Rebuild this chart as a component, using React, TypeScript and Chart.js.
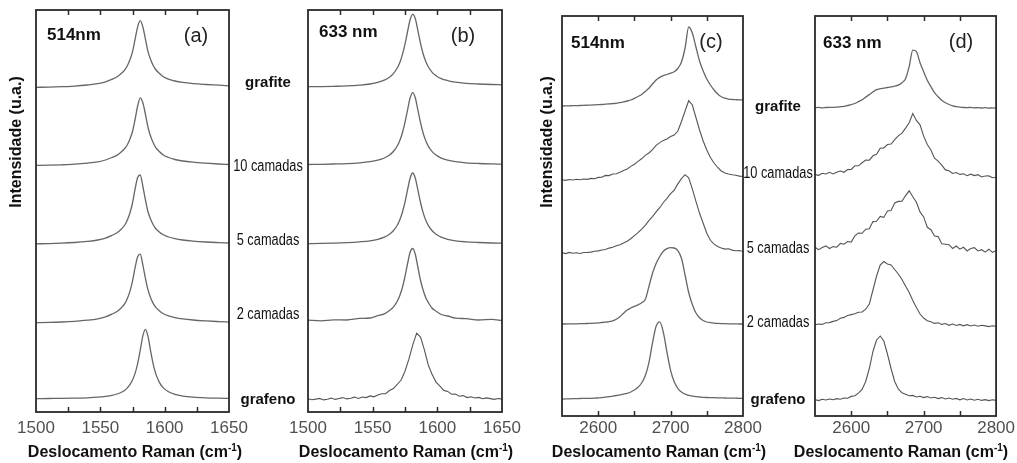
import React, { useEffect, useRef } from "react";
import { Chart, registerables } from "chart.js";

Chart.register(...registerables);

const W = 1017;
const H = 463;
const FONT = '"Liberation Sans", Arial, Helvetica, sans-serif';
const LINE = "#666666";
const LINE_NOISY = "#555555";

// ---------- x grids (cm-1) ----------
const X_G = [1500, 1510, 1520, 1530, 1540, 1548, 1554, 1559, 1563, 1566, 1569, 1571, 1573, 1575, 1577, 1579, 1581, 1583, 1585, 1587, 1589, 1591, 1593, 1596, 1599, 1603, 1608, 1614, 1622, 1632, 1642, 1650];
const X_G_FINE = [1500, 1503, 1506, 1509, 1512, 1515, 1518, 1521, 1524, 1527, 1530, 1533, 1536, 1539, 1542, 1545, 1548, 1551, 1554, 1557, 1560, 1563, 1566, 1569, 1572, 1575, 1578, 1581, 1584, 1587, 1590, 1593, 1596, 1599, 1602, 1605, 1608, 1611, 1614, 1617, 1620, 1623, 1626, 1629, 1632, 1635, 1638, 1641, 1644, 1647, 1650];
const X_2D = [2550, 2555, 2560, 2565, 2570, 2575, 2580, 2585, 2590, 2595, 2600, 2605, 2610, 2615, 2620, 2625, 2630, 2635, 2640, 2645, 2650, 2655, 2660, 2665, 2670, 2675, 2680, 2685, 2690, 2695, 2700, 2705, 2710, 2715, 2720, 2725, 2730, 2735, 2740, 2745, 2750, 2755, 2760, 2765, 2770, 2775, 2780, 2785, 2790, 2795, 2800];

// ---------- tick labels ----------
const TICKS_G = [1500, 1550, 1600, 1650];
const MINOR_G = [1525, 1550, 1575, 1600, 1625];
const TICKS_2D = [2600, 2700, 2800];
const MINOR_2D = [2600, 2650, 2700, 2750];

// ---------- sample names ----------
const SAMPLES = ["grafite", "10 camadas", "5 camadas", "2 camadas", "grafeno"];

// ---------- (a) G band, 514 nm ----------
const A_GRAFITE = [0.0, 0.2, 0.6, 1.2, 2.3, 3.6, 5.4, 8.0, 10.5, 13.5, 17.5, 21.5, 27.5, 35.5, 48.0, 60.5, 66.6, 60.5, 48.5, 36.0, 28.0, 22.0, 17.8, 13.8, 10.6, 8.2, 6.3, 4.9, 3.7, 2.8, 2.1, 1.5];
const A_10 = [0.1, 0.3, 0.7, 1.3, 2.4, 3.7, 5.5, 8.0, 10.4, 13.3, 17.0, 20.8, 26.5, 34.0, 46.0, 59.5, 67.7, 63.0, 51.5, 38.5, 29.5, 23.0, 18.2, 13.8, 10.5, 8.0, 6.0, 4.5, 3.3, 2.3, 1.5, 1.0];
const A_5 = [0.2, 0.4, 0.8, 1.5, 2.6, 4.0, 5.9, 8.6, 11.3, 14.5, 19.0, 24.0, 31.0, 41.0, 55.0, 66.5, 69.0, 58.0, 44.5, 32.5, 25.0, 19.5, 15.5, 11.8, 9.2, 7.0, 5.3, 4.0, 2.9, 2.0, 1.4, 1.0];
const A_2 = [0.1, 0.3, 0.7, 1.4, 2.5, 3.9, 5.8, 8.5, 11.2, 14.5, 19.0, 24.2, 31.3, 41.5, 55.0, 66.0, 68.5, 58.0, 44.5, 33.0, 25.2, 19.6, 15.5, 11.7, 9.0, 6.8, 5.1, 3.8, 2.7, 1.8, 1.1, 0.6];
const A_GRAFENO = [0.4, 0.5, 0.6, 0.8, 1.2, 1.8, 2.6, 3.6, 5.0, 6.5, 8.8, 11.1, 14.3, 18.9, 25.6, 35.4, 48.7, 62.9, 69.7, 62.9, 48.7, 35.4, 25.6, 16.4, 11.1, 7.2, 4.6, 2.95, 1.84, 1.15, 0.79, 0.61];
const A_OFFSETS = [324.7, 246.5, 168, 89.3, 13];

// ---------- (b) G band, 633 nm ----------
const B_GRAFITE = [0.6, 0.7, 1.0, 1.4, 2.2, 3.3, 4.9, 7.1, 10.1, 13.7, 19.3, 24.9, 32.7, 43.1, 55.8, 67.8, 73.0, 68.5, 56.5, 44.0, 33.5, 26.0, 20.5, 15.0, 11.5, 8.7, 6.7, 5.1, 4.0, 3.3, 2.8, 2.5];
const B_10 = [0.5, 0.7, 1.0, 1.4, 2.2, 3.3, 4.8, 7.0, 9.9, 13.5, 19.0, 24.6, 32.3, 42.6, 55.2, 67.2, 72.3, 67.0, 54.8, 42.3, 32.0, 24.4, 18.9, 13.4, 9.9, 6.9, 4.8, 3.3, 2.2, 1.5, 1.1, 0.9];
const B_5 = [0.4, 0.6, 0.9, 1.4, 2.2, 3.2, 4.7, 6.9, 9.8, 13.3, 18.7, 24.2, 31.8, 41.9, 54.3, 66.0, 71.0, 65.8, 53.8, 41.5, 31.4, 24.0, 18.6, 13.2, 9.7, 6.8, 4.7, 3.2, 2.2, 1.5, 1.0, 0.8];
const B_2 = [0.9, 0.2, 1.1, 1.0, 2.6, 3.0, 5.3, 7.1, 10.5, 13.9, 19.8, 25.5, 33.5, 44.5, 57.5, 69.0, 72.5, 66.5, 53.5, 40.5, 31.0, 23.5, 18.5, 12.8, 9.8, 6.5, 5.0, 2.8, 2.4, 1.0, 1.6, 0.5];
const B_GRAFENO = [1.2, 0.3, 0.9, 1.6, 0.1, 0.8, 1.9, 0.6, 1.5, 2.4, 1.1, 1.8, 2.9, 1.6, 3.0, 2.4, 4.1, 3.2, 4.9, 6.3, 6.4, 9.5, 11.4, 15.5, 20.0, 28.8, 40.8, 55.2, 66.8, 62.9, 50.2, 35.0, 25.4, 17.9, 13.8, 9.6, 8.6, 5.8, 5.9, 3.8, 4.4, 2.4, 3.2, 2.0, 2.6, 1.2, 2.1, 1.4, 0.6, 1.5, 0.9];
const B_OFFSETS = [324.7, 247, 168, 91, 12];

// ---------- (c) 2D band, 514 nm ----------
const C_GRAFITE = [0, 0.1, 0.2, 0.3, 0.4, 0.5, 0.7, 0.8, 0.9, 1.1, 1.3, 1.5, 1.8, 2.1, 2.4, 2.7, 3.3, 4.1, 5.0, 6.0, 7.7, 9.5, 11.5, 14.5, 17.7, 22, 26, 28.6, 30.4, 31.5, 32.8, 34.3, 37.5, 44, 58, 79, 73, 59, 45, 35, 27, 21, 16, 12, 9.3, 7.8, 6.9, 6.5, 6.3, 6.1, 6.0];
const C_10 = [0.3, -0.4, 0.5, 0.0, 0.8, 0.2, 1.0, 0.6, 1.6, 1.3, 2.6, 2.8, 4.6, 4.4, 6.0, 6.3, 7.8, 9.4, 11.0, 13.6, 15.8, 18.6, 21.2, 24.6, 27.0, 30.4, 34.6, 37.4, 39.6, 41.0, 43.4, 45.0, 49.0, 58.5, 69.0, 79.3, 75.0, 62.5, 50.0, 39.0, 30.0, 22.5, 17.0, 12.5, 9.0, 7.0, 6.0, 5.2, 4.8, 3.9, 3.6];
const C_5 = [0.7, -0.3, 0.9, 0.1, 0.6, -0.2, 0.8, 0.9, 1.2, 2.0, 2.4, 3.3, 3.8, 5.2, 6.0, 7.6, 8.6, 10.4, 12.0, 14.6, 17.6, 20.6, 24.2, 28.0, 32.6, 36.6, 41.4, 45.6, 50.8, 55.0, 59.6, 63.2, 69.4, 74.6, 78.6, 75.5, 64.5, 52.0, 40.0, 30.0, 20.0, 13.0, 9.2, 6.8, 5.4, 4.2, 4.6, 3.2, 2.6, 2.8, 1.8];
const C_2 = [0, 0, 0.1, 0.1, 0.2, 0.3, 0.4, 0.5, 0.6, 0.8, 1.1, 1.5, 1.9, 2.3, 3.2, 4.8, 7.3, 10.8, 14.0, 16.0, 17.6, 19.2, 21.3, 24.5, 37.3, 50.7, 60.5, 67.5, 72.8, 75.3, 76.3, 76.0, 73.3, 65.7, 49.0, 31.5, 19.5, 11.0, 6.3, 3.5, 2.0, 1.4, 0.9, 0.6, 0.4, 0.3, 0.2, 0.1, 0.1, 0, 0];
const C_GRAFENO = [-0.8, -0.6, -0.5, -0.4, -0.3, -0.2, -0.1, 0, 0, 0.1, 0.4, 0.7, 1.1, 1.6, 2.2, 2.8, 3.5, 4.2, 5.0, 6.3, 8.3, 11.0, 15.3, 22.5, 35.5, 55.5, 72.0, 76.5, 66.0, 46.0, 28.0, 16.5, 10.0, 6.2, 4.2, 3.0, 2.2, 1.6, 1.3, 1.0, 0.8, 0.7, 0.6, 0.5, 0.4, 0.3, 0.2, 0.1, 0.1, 0, 0];
const C_OFFSETS = [310, 236, 162.7, 92, 17.7];

// ---------- (d) 2D band, 633 nm ----------
const D_GRAFITE = [0, 0.3, -0.2, 0.2, 0.4, 0.3, 0.6, 1.0, 1.4, 2.2, 3.0, 4.2, 6.0, 7.9, 10.6, 13.1, 15.8, 18.0, 19.0, 19.6, 20.2, 20.8, 21.6, 22.6, 25.0, 29.0, 41.0, 57.5, 56.0, 45.0, 36.0, 27.5, 21.0, 15.0, 11.0, 7.5, 5.0, 3.2, 1.8, 1.0, 0.5, 0.2, 0.1, 0.3, -0.2, 0.1, -0.3, 0, -0.4, -0.2, -0.5];
const D_10 = [0.4, -0.3, 1.7, 1.0, 2.7, 1.1, 2.8, 4.0, 2.7, 5.4, 5.6, 9.2, 9.2, 12.2, 15.0, 14.8, 19.2, 20.7, 26.8, 27.1, 30.5, 31.0, 35.3, 39.1, 41.9, 46.9, 52.2, 61.5, 54.6, 50.2, 38.9, 30.5, 25.0, 16.9, 13.8, 9.8, 5.1, 4.3, 1.5, 2.5, 0.6, 1.2, -0.7, 0.8, -0.6, 0.3, -2.0, -1.0, -0.9, -2.8, -2.2];
const D_5 = [1.0, -1.4, 0.8, 2.4, -0.2, 1.7, 1.1, 4.9, 4.1, 6.8, 6.2, 12.5, 15.2, 15.0, 19.1, 19.5, 26.7, 27.0, 31.9, 30.9, 37.4, 37.7, 45.3, 46.9, 47.1, 52.7, 57.5, 51.5, 46.0, 36.4, 31.4, 21.0, 18.6, 12.2, 11.7, 4.6, 4.1, 3.6, -0.2, 2.3, -0.9, 1.0, -2.7, -0.2, 0.7, -2.6, -1.4, -3.8, -0.9, -4.0, -2.4];
const D_2 = [0.2, 1.0, 0.6, 2.2, 2.4, 3.6, 4.4, 6.8, 7.6, 9.6, 10.4, 11.2, 12.8, 13.0, 15.8, 21.0, 35.0, 49.0, 60.0, 63.5, 61.0, 60.0, 55.5, 51.0, 45.5, 39.0, 32.5, 24.5, 17.5, 11.0, 7.0, 4.2, 3.2, 1.6, 2.2, 0.6, 1.5, -0.3, 1.0, -0.5, 0.6, -0.8, 0.3, -1.0, 0.0, -1.2, -0.2, -0.9, -1.6, -0.7, -1.4];
const D_GRAFENO = [0.4, -0.6, 0.8, 0.0, 1.0, 0.3, 1.4, 0.8, 2.0, 1.8, 3.6, 4.2, 6.8, 10.5, 18.5, 31.5, 48.5, 60.0, 64.0, 59.0, 46.0, 31.5, 18.5, 11.0, 7.2, 5.8, 4.2, 4.6, 3.0, 3.8, 2.4, 3.4, 2.0, 2.8, 1.4, 2.4, 1.0, 2.0, 0.8, 1.6, 0.2, 1.4, 0.0, 1.0, -0.2, 0.8, -0.4, 0.4, -0.6, 0.2, -0.4];
const D_OFFSETS = [308.3, 241, 167.7, 91, 16];

type Series = [number[], number[]];
type PanelCfg = {
  area: [number, number, number, number];
  range: [number, number];
  ticks: number[];
  minor: number[];
  series: Series[];
  offsets: number[];
  noisy: boolean[];
  tickPad: number;
  laser: string;
  laserPos: [number, number];
  tag: string;
  tagPos: [number, number];
  titleX: number;
  yTitle?: [number, number];
  side?: { x: number; ys: number[] };
};

const PANELS: PanelCfg[] = [
  {
    area: [36, 10, 229, 412], range: [1500, 1650], ticks: TICKS_G, minor: MINOR_G,
    series: [[X_G, A_GRAFITE], [X_G, A_10], [X_G, A_5], [X_G, A_2], [X_G, A_GRAFENO]],
    offsets: A_OFFSETS, noisy: [false, false, false, false, false], tickPad: 6,
    laser: "514nm", laserPos: [47, 35], tag: "(a)", tagPos: [196, 36], titleX: 135,
    yTitle: [17, 142], side: { x: 268, ys: [83, 167, 241, 315, 400] },
  },
  {
    area: [308, 10, 502, 412], range: [1500, 1650], ticks: TICKS_G, minor: MINOR_G,
    series: [[X_G, B_GRAFITE], [X_G, B_10], [X_G, B_5], [X_G, B_2], [X_G_FINE, B_GRAFENO]],
    offsets: B_OFFSETS, noisy: [false, false, false, false, true], tickPad: 6,
    laser: "633 nm", laserPos: [319, 32], tag: "(b)", tagPos: [463, 36], titleX: 406,
  },
  {
    area: [562, 16, 743, 416], range: [2550, 2800], ticks: TICKS_2D, minor: MINOR_2D,
    series: [[X_2D, C_GRAFITE], [X_2D, C_10], [X_2D, C_5], [X_2D, C_2], [X_2D, C_GRAFENO]],
    offsets: C_OFFSETS, noisy: [false, true, true, false, false], tickPad: 2,
    laser: "514nm", laserPos: [571, 43], tag: "(c)", tagPos: [711, 42], titleX: 659,
    yTitle: [548, 142], side: { x: 778, ys: [107, 174, 249, 323, 400] },
  },
  {
    area: [815, 16, 997, 416], range: [2550, 2800], ticks: TICKS_2D, minor: MINOR_2D,
    series: [[X_2D, D_GRAFITE], [X_2D, D_10], [X_2D, D_5], [X_2D, D_2], [X_2D, D_GRAFENO]],
    offsets: D_OFFSETS, noisy: [false, true, true, true, true], tickPad: 2,
    laser: "633 nm", laserPos: [823, 43], tag: "(d)", tagPos: [961, 42], titleX: 901,
  },
];

function drawXTitle(ctx: CanvasRenderingContext2D, cx: number, y: number) {
  const main = "Deslocamento Raman (cm";
  ctx.font = `bold 16px ${FONT}`;
  const w1 = ctx.measureText(main).width;
  const w3 = ctx.measureText(")").width;
  ctx.font = `bold 10px ${FONT}`;
  const w2 = ctx.measureText("-1").width;
  let x = cx - (w1 + w2 + w3) / 2;
  ctx.textAlign = "left";
  ctx.textBaseline = "middle";
  ctx.fillStyle = "#111";
  ctx.font = `bold 16px ${FONT}`;
  ctx.fillText(main, x, y);
  x += w1;
  ctx.font = `bold 10px ${FONT}`;
  ctx.fillText("-1", x, y - 5);
  x += w2;
  ctx.font = `bold 16px ${FONT}`;
  ctx.fillText(")", x, y);
}

function makePlugin(cfg: PanelCfg) {
  return {
    id: "panelDecor",
    afterDatasetsDraw(chart: any) {
      const ctx: CanvasRenderingContext2D = chart.ctx;
      const { left, top, right, bottom } = chart.chartArea;
      const xs = chart.scales.x;
      ctx.save();
      ctx.strokeStyle = "#2a2a2a";
      ctx.lineWidth = 1.8;
      ctx.strokeRect(left, top, right - left, bottom - top);
      ctx.lineWidth = 1.5;
      ctx.beginPath();
      for (const v of cfg.minor) {
        const px = Math.round(xs.getPixelForValue(v)) + 0.5;
        ctx.moveTo(px, top);
        ctx.lineTo(px, top + 5);
        ctx.moveTo(px, bottom);
        ctx.lineTo(px, bottom - 5);
      }
      ctx.stroke();
      ctx.restore();
    },
    afterDraw(chart: any) {
      const ctx: CanvasRenderingContext2D = chart.ctx;
      ctx.save();
      ctx.fillStyle = "#111";
      ctx.textBaseline = "middle";
      ctx.textAlign = "left";
      ctx.font = `bold 17px ${FONT}`;
      ctx.fillText(cfg.laser, cfg.laserPos[0], cfg.laserPos[1]);
      ctx.textAlign = "center";
      ctx.font = `20px ${FONT}`;
      ctx.fillStyle = "#222";
      ctx.fillText(cfg.tag, cfg.tagPos[0], cfg.tagPos[1]);
      drawXTitle(ctx, cfg.titleX, 453);
      if (cfg.yTitle) {
        ctx.save();
        ctx.translate(cfg.yTitle[0], cfg.yTitle[1]);
        ctx.rotate(-Math.PI / 2);
        ctx.textAlign = "center";
        ctx.textBaseline = "middle";
        ctx.fillStyle = "#111";
        ctx.font = `bold 16px ${FONT}`;
        ctx.fillText("Intensidade (u.a.)", 0, 0);
        ctx.restore();
      }
      if (cfg.side) {
        const side = cfg.side;
        SAMPLES.forEach((name, i) => {
          const y = side.ys[i];
          const bold = i === 0 || i === SAMPLES.length - 1;
          ctx.fillStyle = "#111";
          ctx.textAlign = "center";
          ctx.textBaseline = "middle";
          if (bold) {
            ctx.font = `bold 15px ${FONT}`;
            ctx.fillText(name, side.x, y);
          } else {
            ctx.save();
            ctx.translate(side.x, y);
            ctx.scale(0.8, 1);
            ctx.font = `16px ${FONT}`;
            ctx.fillText(name, 0, 0);
            ctx.restore();
          }
        });
      }
      ctx.restore();
    },
  };
}

function Panel({ cfg }: { cfg: PanelCfg }) {
  const ref = useRef<HTMLCanvasElement>(null);
  useEffect(() => {
    const canvas = ref.current;
    if (!canvas) return;
    const [L, T, R, B] = cfg.area;
    const chart = new Chart(canvas, {
      type: "line",
      data: {
        datasets: cfg.series.map(([xs, ys], i) => ({
          label: SAMPLES[i],
          data: xs.map((x, j) => ({ x, y: ys[j] + cfg.offsets[i] })),
          borderColor: cfg.noisy[i] ? LINE_NOISY : LINE,
          borderWidth: cfg.noisy[i] ? 1.1 : 1.3,
          pointRadius: 0,
          fill: false,
          tension: 0,
          cubicInterpolationMode: cfg.noisy[i] ? ("default" as const) : ("monotone" as const),
        })),
      },
      options: {
        responsive: false,
        animation: false,
        devicePixelRatio: 1,
        events: [],
        layout: { padding: { left: L, top: T, right: W - R, bottom: 0 } },
        plugins: { legend: { display: false }, tooltip: { enabled: false }, title: { display: false } },
        scales: {
          x: {
            type: "linear",
            position: "bottom",
            min: cfg.range[0],
            max: cfg.range[1],
            afterFit: (s: any) => {
              s.height = H - B;
            },
            afterBuildTicks: (s: any) => {
              s.ticks = cfg.ticks.map((v) => ({ value: v }));
            },
            grid: { display: false, drawTicks: false },
            border: { display: false },
            ticks: {
              autoSkip: false,
              maxRotation: 0,
              padding: cfg.tickPad,
              color: "#505050",
              font: { family: FONT, size: 17 },
              callback: (v: any) => String(v),
            },
          },
          y: { type: "linear", display: false, min: 0, max: B - T },
        },
      },
      plugins: [makePlugin(cfg)],
    } as any);
    return () => chart.destroy();
  }, [cfg]);
  return <canvas ref={ref} width={W} height={H} style={{ position: "absolute", left: 0, top: 0 }} />;
}

export default function App() {
  return (
    <div style={{ position: "absolute", left: 0, top: 0, width: W, height: H, background: "#fff" }}>
      {PANELS.map((p, i) => (
        <Panel key={i} cfg={p} />
      ))}
    </div>
  );
}
